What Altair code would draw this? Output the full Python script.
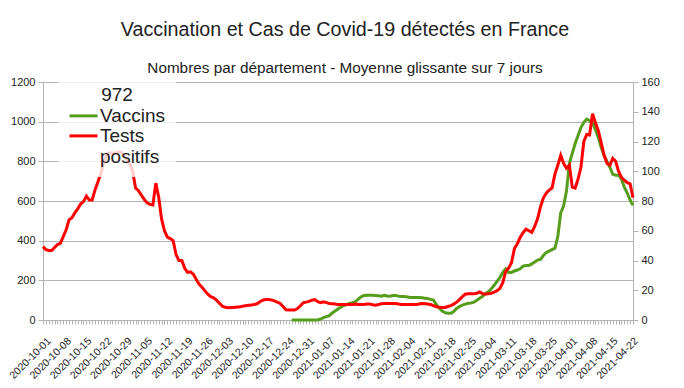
import altair as alt
import pandas as pd

# Categories: one point per day
dates = [d.strftime("%Y-%m-%d") for d in pd.date_range("2020-10-01", "2021-04-23", freq="D")]
tick_labels = dates[::7]

# Tests positifs (right axis, 7-day mean), one value per day from 2020-10-01
tests_positifs = [
    49.3, 47.3, 46.7, 46.7, 48.7, 50.7, 51.5, 56.0, 60.7, 67.3,
    68.7, 72.0, 74.7, 78.0, 79.6, 83.3, 80.7, 80.7, 87.5, 92.9,
    98.7, 105.3, 111.6, 112.3, 112.5, 112.0, 113.1, 112.7, 110.7, 107.6,
    105.3, 100.0, 88.7, 86.9, 84.0, 81.1, 78.7, 77.7, 77.3, 92.0,
    82.7, 68.0, 60.0, 55.7, 54.7, 53.3, 44.0, 40.0, 40.0, 34.7,
    32.0, 32.4, 30.7, 27.3, 24.0, 22.0, 19.6, 17.3, 15.7, 14.9,
    13.3, 11.3, 9.3, 8.5, 8.3, 8.4, 8.4, 8.8, 8.8, 9.3,
    9.6, 9.9, 10.1, 10.4, 10.9, 12.3, 13.3, 13.7, 13.7, 13.5,
    12.9, 12.0, 11.1, 9.1, 6.9, 6.7, 6.7, 6.7, 7.7, 9.6,
    11.6, 12.0, 12.5, 13.3, 13.7, 12.3, 11.7, 12.3, 11.7, 11.1,
    10.9, 10.7, 10.5, 10.4, 10.4, 10.4, 10.4, 10.5, 10.7, 10.5,
    10.4, 10.5, 10.7, 10.7, 10.3, 10.0, 10.4, 10.9, 11.1, 11.1,
    11.1, 11.1, 11.1, 10.7, 10.4, 10.4, 10.4, 10.4, 10.4, 10.4,
    10.7, 11.1, 10.9, 10.7, 10.4, 9.6, 8.9, 8.5, 8.4, 8.4,
    9.1, 9.7, 10.7, 12.0, 13.7, 15.7, 17.3, 17.7, 17.7, 17.7,
    18.0, 18.9, 17.6, 17.5, 17.7, 18.0, 18.7, 19.7, 21.3, 25.3,
    32.7, 34.9, 38.7, 48.0, 51.3, 55.6, 58.7, 61.1, 60.0, 58.9,
    62.9, 68.0, 76.0, 82.0, 85.3, 87.3, 88.7, 98.0, 104.0, 110.7,
    105.3, 102.0, 104.0, 89.3, 88.7, 94.7, 102.7, 120.0, 124.7, 124.4,
    138.7, 132.7, 127.3, 119.3, 110.7, 105.3, 104.0, 108.7, 106.7, 100.0,
    96.0, 94.0, 92.3, 91.5, 82.3,
]

# Vaccins (left axis, 7-day mean), starting 2020-12-26
vaccins_start = "2020-12-26"
vaccins = [
    0, 0, 0, 0, 0, 0, 0, 0, 0, 0,
    5, 12, 17, 22, 35, 45, 55, 65, 73, 78,
    83, 87, 92, 105, 117, 124, 125, 125, 125, 124,
    122, 120, 124, 121, 120, 123, 124, 120, 119, 118,
    116, 114, 113, 113, 113, 112, 110, 108, 104, 100,
    78, 60, 45, 37, 34, 34, 42, 58, 68, 75,
    80, 84, 86, 90, 100, 110, 120, 132, 142, 157,
    175, 195, 215, 240, 258, 240, 240, 247, 252, 258,
    272, 275, 275, 283, 292, 302, 305, 325, 340, 347,
    355, 362, 420, 540, 575, 650, 790, 840, 890, 930,
    970, 997, 1013, 1005, 995, 960, 920, 870, 830, 800,
    770, 735, 730, 730, 710, 670, 640, 605, 578,
]

left_ticks = [0, 200, 400, 600, 800, 1000, 1200]
right_ticks = [0, 20, 40, 60, 80, 100, 120, 140, 160]
series_names = ["Vaccins", "Tests positifs"]
series_colors = ["#579d1c", "#ff0000"]

i0 = dates.index(vaccins_start)
df_vac = pd.DataFrame({"date": dates[i0:i0 + len(vaccins)], "value": vaccins, "serie": series_names[0]})
df_tests = pd.DataFrame({"date": dates[:len(tests_positifs)], "value": tests_positifs, "serie": series_names[1]})

FONT = "Liberation Sans"
GRAY = "#b3b3b3"
TXT = "#222222"

label_list = "[" + ",".join("'" + t + "'" for t in tick_labels) + "]"
x_enc = alt.X(
    "date:O",
    scale=alt.Scale(domain=dates, padding=0),
    axis=alt.Axis(
        values=dates,
        labelExpr="indexof(" + label_list + ", datum.value) >= 0 ? datum.label : ''",
        labelAngle=-45,
        labelAlign="right",
        labelBaseline="middle",
        labelPadding=15,
        labelOffset=6,
        labelOverlap=False,
        labelFontSize=10.5,
        labelFont=FONT,
        labelColor=TXT,
        tickSize=4,
        tickColor=GRAY,
        domainColor=GRAY,
        grid=False,
        title=None,
    ),
)

legend = alt.Legend(
    title="972",
    titleAnchor="middle",
    orient="none",
    legendX=15,
    legendY=-6,
    zindex=1,
    fillColor="rgba(255,255,255,0.8)",
    padding=10,
    symbolType="M-2,-0.8H2",
    symbolSize=196,
    symbolStrokeWidth=3,
    symbolOffset=6,
    labelFont=FONT,
    labelFontSize=19,
    labelColor=TXT,
    labelBaseline="alphabetic",
    labelLimit=0,
    labelOffset=7,
    labelExpr="datum.label == 'Tests positifs' ? ['Tests', 'positifs'] : datum.label",
    titleFont=FONT,
    titleFontSize=19,
    titleFontWeight="normal",
    titleColor=TXT,
    titlePadding=7,
    rowPadding=0,
)

color_enc = alt.Color(
    "serie:N",
    scale=alt.Scale(domain=series_names, range=series_colors),
    legend=legend,
)

vac_layer = alt.Chart(df_vac).mark_line(strokeWidth=3).encode(
    x=x_enc,
    y=alt.Y(
        "value:Q",
        scale=alt.Scale(domain=[0, 1200]),
        axis=alt.Axis(
            values=left_ticks, orient="left", grid=True, gridColor=GRAY,
            format="d",
            tickSize=5, tickColor=GRAY, domainColor=GRAY,
            labelFont=FONT, labelFontSize=11, labelColor=TXT, labelPadding=3,
            title=None,
        ),
    ),
    color=color_enc,
)

tests_layer = alt.Chart(df_tests).mark_line(strokeWidth=3).encode(
    x=x_enc,
    y=alt.Y(
        "value:Q",
        scale=alt.Scale(domain=[0, 160]),
        axis=alt.Axis(
            values=right_ticks, orient="right", grid=False,
            format="d",
            tickSize=5, tickColor=GRAY, domainColor=GRAY,
            labelFont=FONT, labelFontSize=11, labelColor=TXT, labelPadding=3,
            title=None,
        ),
    ),
    color=color_enc,
)

chart = (
    alt.layer(vac_layer, tests_layer)
    .resolve_scale(y="independent")
    .properties(
        width=590,
        height=238,
        autosize="none",
        padding={"left": 35, "top": 74, "right": 43, "bottom": 66},
        background="white",
        title=alt.TitleParams(
            text="Vaccination et Cas de Covid-19 détectés en France",
            subtitle="Nombres par département - Moyenne glissante sur 7 jours",
            font=FONT,
            subtitleFont=FONT,
            fontSize=19.7,
            subtitleFontSize=15.3,
            fontWeight="normal",
            color=TXT,
            subtitleColor=TXT,
            anchor="middle",
            offset=0,
            subtitlePadding=21,
            dx=7,
        ),
    )
    .configure_view(strokeOpacity=0)
)

chart.save("out.html", embed_options={"renderer": "svg", "actions": False})
